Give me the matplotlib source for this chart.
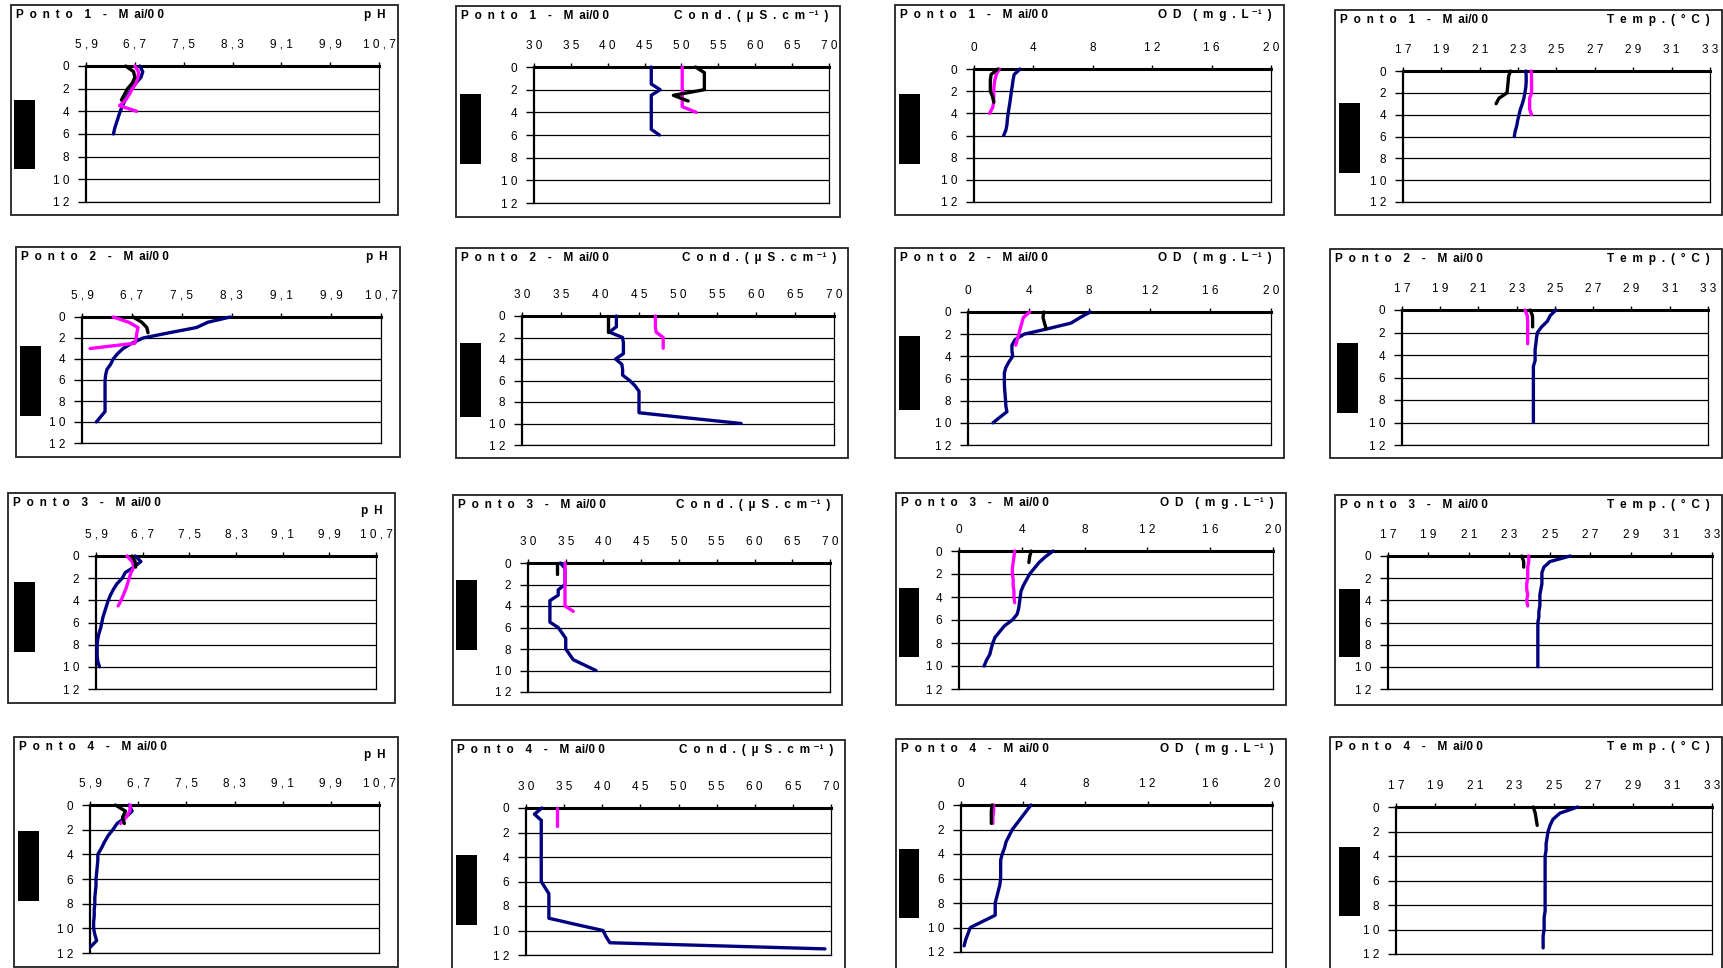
import matplotlib
matplotlib.use("Agg")
import matplotlib.pyplot as plt
from matplotlib.patches import Rectangle

# depth grids (m)
z3 = [0, 0.5, 1]
z4 = [0, 0.5, 1, 1.5]
z7 = [0, 0.5, 1, 1.5, 2, 2.5, 3]
z9 = [0, 0.5, 1, 1.5, 2, 2.5, 3, 3.5, 4]
z10 = [0, 0.5, 1, 1.5, 2, 2.5, 3, 3.5, 4, 4.5]
z13 = [0, 0.5, 1, 1.5, 2, 2.5, 3, 3.5, 4, 4.5, 5, 5.5, 6]
z21 = [0, 0.5, 1, 1.5, 2, 2.5, 3, 3.5, 4, 4.5, 5, 5.5, 6, 6.5, 7, 7.5, 8, 8.5,
       9, 9.5, 10]
z24 = [0, 0.5, 1, 1.5, 2, 2.5, 3, 3.5, 4, 4.5, 5, 5.5, 6, 6.5, 7, 7.5, 8, 8.5,
       9, 9.5, 10, 10.5, 11, 11.5]

# Ponto 1
ph1_black = [6.55, 6.68, 6.70, 6.66, 6.58, 6.53, 6.48]
ph1_navy = [6.78, 6.83, 6.80, 6.72, 6.65, 6.59, 6.54, 6.50, 6.46, 6.43, 6.40, 6.37, 6.35]
ph1_mag = [6.70, 6.76, 6.75, 6.72, 6.66, 6.61, 6.55, 6.45, 6.73]
cond1_black = [51.9, 53.1, 53.1, 53.1, 53.1, 48.9, 50.9]
cond1_navy = [45.9, 45.9, 45.9, 45.9, 47.1, 45.9, 45.9, 45.9, 45.9, 45.9, 45.9, 45.9, 47.0]
cond1_mag = [50.1, 50.1, 50.1, 50.1, 50.1, 50.1, 50.1, 50.1, 52.0]
od1_black = [1.6, 1.15, 1.1, 1.1, 1.1, 1.25, 1.33]
od1_navy = [3.1, 2.7, 2.63, 2.58, 2.52, 2.47, 2.42, 2.36, 2.30, 2.25, 2.22, 2.15, 2.0]
od1_mag = [1.7, 1.5, 1.4, 1.35, 1.33, 1.33, 1.33, 1.25, 1.05]
temp1_black = [22.6, 22.5, 22.48, 22.45, 22.42, 22.0, 21.85]
temp1_navy = [23.4, 23.42, 23.42, 23.4, 23.35, 23.3, 23.22, 23.12, 23.05, 22.98, 22.93, 22.85, 22.8]
temp1_mag = [23.68, 23.7, 23.7, 23.7, 23.7, 23.6, 23.6, 23.6, 23.7]

# Ponto 2
ph2_black = [6.72, 6.86, 6.94, 6.96]
ph2_navy = [8.28, 7.92, 7.74, 7.30, 6.88, 6.70, 6.56, 6.47, 6.40, 6.36, 6.30, 6.28,
            6.27, 6.27, 6.27, 6.27, 6.27, 6.27, 6.27, 6.20, 6.13]
ph2_mag = [6.40, 6.65, 6.80, 6.78, 6.77, 6.75, 6.03]
cond2_black = [41.0, 41.0, 41.0, 41.0]
cond2_navy = [42.1, 42.1, 42.1, 41.2, 42.9, 43.0, 43.0, 43.0, 42.0, 42.8, 42.9, 42.9,
              43.8, 44.5, 45.0, 45.0, 45.0, 45.0, 45.0, 51.5, 58.1]
cond2_mag = [47.1, 47.1, 47.1, 47.2, 48.1, 48.1, 48.1]
od2_black = [5.0, 4.95, 5.05, 5.15]
od2_navy = [8.07, 7.4, 6.8, 5.3, 3.7, 3.1, 2.9, 2.9, 2.95, 2.7, 2.5, 2.4, 2.4, 2.4,
            2.42, 2.45, 2.48, 2.5, 2.57, 2.1, 1.65]
od2_mag = [4.07, 3.65, 3.55, 3.45, 3.35, 3.25, 3.15]
temp2_black = [23.7, 23.82, 23.83, 23.83]
temp2_navy = [25.05, 24.75, 24.6, 24.3, 24.08, 24.03, 24.0, 23.96, 23.96, 23.96, 23.87,
              23.87, 23.87, 23.87, 23.87, 23.87, 23.87, 23.87, 23.87, 23.87, 23.87]
temp2_mag = [23.43, 23.55, 23.57, 23.57, 23.57, 23.57, 23.57]

# Ponto 3
ph3_black = [6.52, 6.57, 6.58]
ph3_navy = [6.57, 6.67, 6.55, 6.40, 6.35, 6.26, 6.20, 6.15, 6.11, 6.08, 6.05, 6.02,
            6.00, 5.98, 5.95, 5.93, 5.92, 5.92, 5.92, 5.93, 5.96]
ph3_mag = [6.43, 6.52, 6.55, 6.50, 6.47, 6.44, 6.41, 6.37, 6.33, 6.28]
cond3_black = [33.9, 33.9, 33.9]
cond3_navy = [34.3, 34.9, 34.9, 34.9, 34.9, 34.0, 34.0, 32.9, 32.9, 32.9, 32.9, 32.9,
              34.0, 34.5, 35.0, 35.0, 35.0, 35.5, 36.0, 37.5, 39.0]
cond3_mag = [34.9, 34.9, 34.9, 34.9, 34.9, 34.9, 34.9, 34.9, 34.9, 36.0]
od3_black = [4.6, 4.5, 4.45]
od3_navy = [6.0, 5.5, 5.1, 4.8, 4.5, 4.3, 4.1, 3.95, 3.9, 3.85, 3.8, 3.7, 3.4, 2.9,
            2.6, 2.3, 2.15, 2.05, 1.96, 1.75, 1.6]
od3_mag = [3.55, 3.5, 3.45, 3.4, 3.4, 3.45, 3.45, 3.5, 3.5, 3.55]
temp3_black = [23.6, 23.7, 23.7]
temp3_navy = [26.0, 25.0, 24.7, 24.6, 24.6, 24.6, 24.55, 24.5, 24.5, 24.5, 24.45, 24.45,
              24.4, 24.4, 24.4, 24.4, 24.4, 24.4, 24.4, 24.4, 24.4]
temp3_mag = [23.95, 23.95, 23.9, 23.9, 23.9, 23.85, 23.85, 23.9, 23.85, 23.9]

# Ponto 4
ph4_black = [6.32, 6.49, 6.44, 6.47]
ph4_navy = [6.55, 6.60, 6.49, 6.35, 6.28, 6.20, 6.14, 6.09, 6.03, 6.03, 6.02, 6.01,
            6.00, 6.00, 5.99, 5.98, 5.98, 5.97, 5.97, 5.96, 5.96, 5.98, 6.01, 5.91]
ph4_mag = [6.57, 6.56, 6.50, 6.41]
cond4_navy = [32.1, 31.1, 32.0, 32.0, 32.0, 32.0, 32.0, 32.0, 32.0, 32.0, 32.0, 32.0,
              32.0, 32.5, 33.0, 33.0, 33.0, 33.0, 33.0, 36.5, 40.1, 40.5, 41.0, 69.2]
cond4_mag = [34.0, 34.0, 34.0, 34.0]
od4_black = [2.0, 1.95, 1.95, 1.95]
od4_navy = [4.5, 4.2, 3.9, 3.6, 3.3, 3.1, 2.9, 2.8, 2.65, 2.55, 2.55, 2.55, 2.55, 2.5,
            2.4, 2.3, 2.2, 2.2, 2.2, 1.4, 0.6, 0.45, 0.3, 0.2]
od4_mag = [2.1, 2.1, 2.05, 2.05]
temp4_black = [23.95, 24.05, 24.1, 24.15]
temp4_navy = [26.2, 25.3, 24.95, 24.8, 24.7, 24.65, 24.6, 24.6, 24.55, 24.55, 24.55,
              24.55, 24.55, 24.55, 24.55, 24.55, 24.55, 24.55, 24.5, 24.5, 24.5, 24.45,
              24.45, 24.45]

# x scales and labels of the four columns
var_ticks = [
    [5.9, 6.7, 7.5, 8.3, 9.1, 9.9, 10.7],
    [30, 35, 40, 45, 50, 55, 60, 65, 70],
    [0, 4, 8, 12, 16, 20],
    [17, 19, 21, 23, 25, 27, 29, 31, 33],
]
points = ["1", "2", "3", "4"]
depth_ticks = [0, 2, 4, 6, 8, 10, 12]

NAVY, MAG, BLACK = "#000080", "#FF00FF", "#000000"

# series per panel: (row, col) -> list of (depths, values, colour)
panels = {
    (0, 0): [(z13, ph1_navy, NAVY), (z9, ph1_mag, MAG), (z7, ph1_black, BLACK)],
    (0, 1): [(z13, cond1_navy, NAVY), (z9, cond1_mag, MAG), (z7, cond1_black, BLACK)],
    (0, 2): [(z13, od1_navy, NAVY), (z9, od1_mag, MAG), (z7, od1_black, BLACK)],
    (0, 3): [(z13, temp1_navy, NAVY), (z9, temp1_mag, MAG), (z7, temp1_black, BLACK)],
    (1, 0): [(z21, ph2_navy, NAVY), (z7, ph2_mag, MAG), (z4, ph2_black, BLACK)],
    (1, 1): [(z21, cond2_navy, NAVY), (z7, cond2_mag, MAG), (z4, cond2_black, BLACK)],
    (1, 2): [(z21, od2_navy, NAVY), (z7, od2_mag, MAG), (z4, od2_black, BLACK)],
    (1, 3): [(z21, temp2_navy, NAVY), (z7, temp2_mag, MAG), (z4, temp2_black, BLACK)],
    (2, 0): [(z21, ph3_navy, NAVY), (z10, ph3_mag, MAG), (z3, ph3_black, BLACK)],
    (2, 1): [(z21, cond3_navy, NAVY), (z10, cond3_mag, MAG), (z3, cond3_black, BLACK)],
    (2, 2): [(z21, od3_navy, NAVY), (z10, od3_mag, MAG), (z3, od3_black, BLACK)],
    (2, 3): [(z21, temp3_navy, NAVY), (z10, temp3_mag, MAG), (z3, temp3_black, BLACK)],
    (3, 0): [(z24, ph4_navy, NAVY), (z4, ph4_mag, MAG), (z4, ph4_black, BLACK)],
    (3, 1): [(z24, cond4_navy, NAVY), (z4, cond4_mag, MAG)],
    (3, 2): [(z24, od4_navy, NAVY), (z4, od4_mag, MAG), (z4, od4_black, BLACK)],
    (3, 3): [(z24, temp4_navy, NAVY), (z4, temp4_black, BLACK)],
}

# layout in pixels (x0, y0, x1, y1), measured on the page
frames = [
    [(11, 5, 398, 215), (456, 6, 840, 217), (895, 5, 1284, 215), (1335, 10, 1722, 215)],
    [(16, 247, 400, 457), (456, 248, 848, 458), (895, 248, 1284, 458), (1330, 249, 1722, 458)],
    [(8, 493, 395, 703), (453, 495, 842, 705), (896, 493, 1286, 705), (1335, 495, 1722, 705)],
    [(14, 737, 398, 967), (452, 740, 845, 972), (896, 739, 1286, 972), (1330, 737, 1722, 972)],
]
plots = [
    [(86, 66, 379, 202), (534, 67, 829, 203), (974, 69, 1271, 202), (1403, 71, 1710, 202)],
    [(82, 317, 381, 443), (522, 316, 834, 445), (968, 312, 1271, 445), (1402, 310, 1708, 445)],
    [(96, 556, 376, 689), (528, 563, 830, 692), (959, 551, 1273, 689), (1388, 556, 1712, 689)],
    [(90, 805, 379, 953), (526, 808, 831, 955), (961, 805, 1272, 952), (1396, 807, 1712, 954)],
]
blocks = [
    [(14, 100, 35, 169), (460, 94, 481, 164), (899, 94, 920, 164), (1339, 103, 1360, 173)],
    [(20, 346, 41, 416), (460, 343, 481, 417), (899, 336, 920, 410), (1337, 343, 1358, 413)],
    [(14, 582, 35, 652), (456, 580, 477, 650), (899, 588, 919, 657), (1339, 589, 1360, 657)],
    [(18, 831, 39, 901), (456, 855, 477, 925), (899, 849, 919, 918), (1339, 847, 1360, 916)],
]

W, H = 1724, 968
FONT = ["Liberation Sans", "DejaVu Sans"]
plt.rcParams["font.family"] = FONT
EN = "\u2002"


def spaced(s):
    return " ".join(s)


def tracked(s):
    # wide letter spacing as in the original spreadsheet export
    return EN.join(s.replace(" ", ""))


var_units = [
    tracked("pH"),
    tracked("Cond.(µS.cm") + " ⁻¹" + EN + ")",
    tracked("OD") + EN * 2 + tracked("(mg.L") + " ⁻¹" + EN + ")",
    tracked("Temp.(°C)"),
]


def fig_xy(x, y):
    return x / W, 1 - y / H


def fig_rect(r):
    x0, y0, x1, y1 = r
    return [x0 / W, 1 - y1 / H, (x1 - x0) / W, (y1 - y0) / H]


fig = plt.figure(figsize=(W / 100, H / 100), dpi=100)

for row in range(4):
    for col in range(4):
        fr = frames[row][col]
        fx, fy, fw, fh = fig_rect(fr)
        fig.add_artist(Rectangle((fx, fy), fw, fh, transform=fig.transFigure,
                                 fill=False, lw=1.3, ec="#222222"))
        bx, by, bw, bh = fig_rect(blocks[row][col])
        fig.add_artist(Rectangle((bx, by), bw, bh, transform=fig.transFigure,
                                 fc="black", ec="none"))

        title = (tracked("Ponto") + EN * 2 + points[row] + EN * 2 + "-" + EN * 2
                 + "M" + EN + "ai/0 0")
        tx, ty = fig_xy(fr[0] + 5, fr[1] + 10)
        fig.text(tx, ty, title, fontsize=8.5, fontweight="bold", ha="left",
                 va="center")
        uy = fr[1] + (10 if (col > 0 or row < 2) else 18)
        ux, uy = fig_xy(fr[2] - 12, uy)
        fig.text(ux, uy, var_units[col], fontsize=8.5, fontweight="bold",
                 ha="right", va="center")

        ax = fig.add_axes(fig_rect(plots[row][col]))
        for depths, values, colour in panels[(row, col)]:
            ax.plot(values, depths, color=colour, lw=2.4, solid_joinstyle="round",
                    solid_capstyle="round", clip_on=False, zorder=3)

        ticks = var_ticks[col]
        ax.set_xlim(ticks[0], ticks[-1])
        ax.set_ylim(12, 0)
        ax.xaxis.tick_top()
        ax.set_xticks(ticks)
        ax.set_xticklabels([spaced(f"{t:g}".replace(".", ",")) for t in ticks])
        ax.set_yticks(depth_ticks)
        ax.set_yticklabels([spaced(str(d)) for d in depth_ticks])
        ax.tick_params(axis="x", direction="out", length=3, width=1, pad=8,
                       labelsize=8.5)
        ax.tick_params(axis="y", direction="out", length=6, width=1, pad=6,
                       labelsize=8.5)
        ax.grid(axis="y", color="black", lw=0.9)
        ax.set_axisbelow(True)
        ax.spines["top"].set_linewidth(2.2)
        ax.spines["left"].set_linewidth(1.6)
        ax.spines["right"].set_linewidth(0.9)
        ax.spines["bottom"].set_linewidth(0.9)

fig.savefig("out.png", dpi=100)
